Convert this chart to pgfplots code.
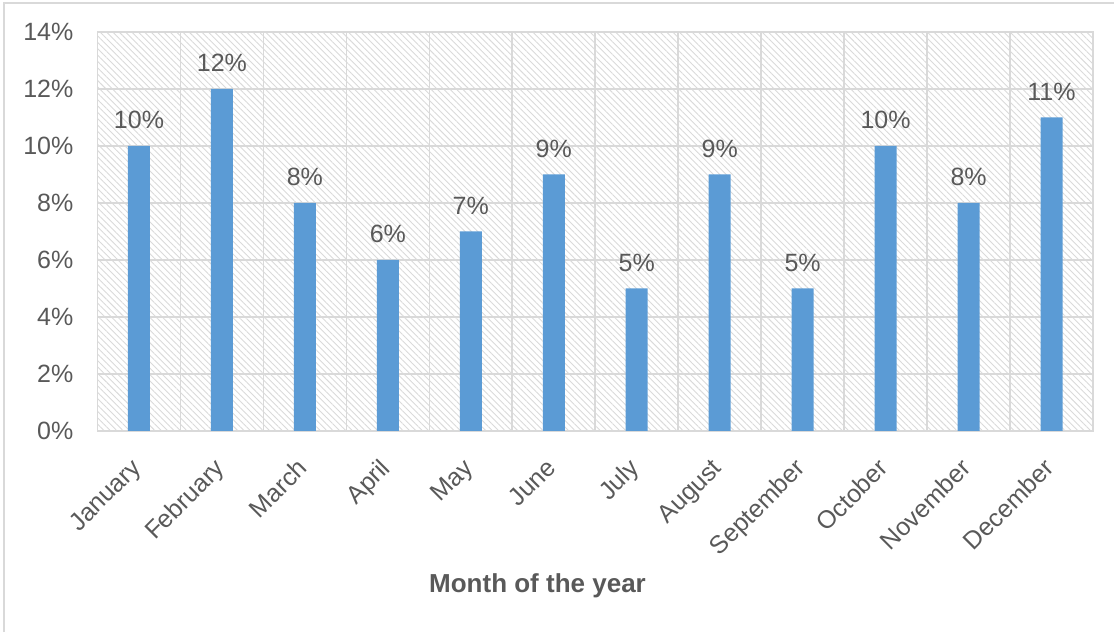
\documentclass[border=0pt]{standalone}
\usepackage{pgfplots}
\pgfplotsset{compat=1.18}
\usetikzlibrary{patterns.meta}
\usepackage{fontspec}
\setmainfont{Liberation Sans}
\definecolor{txt}{HTML}{595959}
\definecolor{barc}{HTML}{5B9BD5}
\definecolor{gridc}{HTML}{D9D9D9}
\definecolor{hatch}{HTML}{DADADA}
\begin{document}
\begin{tikzpicture}
\useasboundingbox (0pt,0pt) rectangle (1114pt,632pt);
\draw[gridc, line width=2pt] (3.5pt,0pt) -- (3.5pt,628.5pt) -- (1114pt,628.5pt);
\begin{axis}[
  at={(97.5pt,201pt)}, anchor=south west,
  scale only axis, width=995.5pt, height=399pt,
  xmin=-0.5, xmax=11.5, ymin=0, ymax=14,
  ybar, bar width=22pt,
  xtick={0,...,11},
  xticklabels={January,February,March,April,May,June,July,August,September,October,November,December},
  minor xtick={0.5,1.5,...,10.5},
  ytick={0,2,...,14},
  yticklabel={\pgfmathprintnumber{\tick}\%},
  /pgf/number format/assume math mode=true,
  major tick length=0pt, minor tick length=0pt,
  ymajorgrids, xminorgrids,
  grid style={gridc, line width=1.6pt},
  minor grid style={gridc, line width=1.6pt},
  axis line style={gridc, line width=1.8pt},
  axis background/.style={pattern={Lines[angle=-45, distance=4.5pt, line width=0.9pt]}, pattern color=hatch},
  tick label style={font=\fontsize{25}{30}\selectfont, text=txt},
  yticklabel style={inner sep=0pt, xshift=-24pt},
  xticklabel style={xshift=-9pt, yshift=-26pt, rotate=45, anchor=north east, inner sep=0pt},
  nodes near coords={\pgfmathprintnumber{\pgfplotspointmeta}\%},
  every node near coord/.append style={font=\fontsize{25}{30}\selectfont, text=txt, inner sep=0pt, yshift=17pt},
  clip=false,
]
\addplot[fill=barc, draw=none] coordinates {
(0,10) (1,12) (2,8) (3,6) (4,7) (5,9) (6,5) (7,9) (8,5) (9,10) (10,8) (11,11)};
\end{axis}
\node[font=\bfseries\fontsize{26}{30}\selectfont, text=txt] at (537.5pt,46pt) {Month of the year};
\end{tikzpicture}
\end{document}
